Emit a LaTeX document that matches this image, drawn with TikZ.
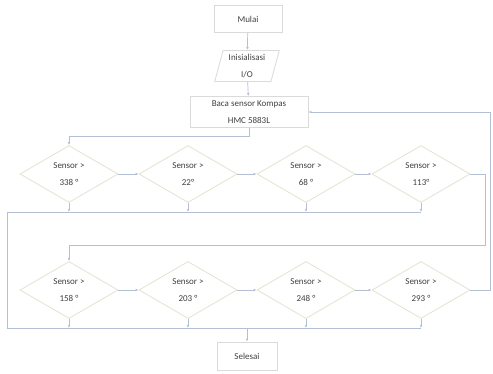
\documentclass[tikz,border=0pt]{standalone}
\usepackage{fontspec}
\setmainfont{Carlito}
\usetikzlibrary{shapes.geometric,arrows.meta}
\definecolor{linec}{HTML}{B4BED4}
\definecolor{boxc}{HTML}{DADADA}
\definecolor{diac}{HTML}{E2E4D2}
\definecolor{txtc}{HTML}{404040}
\begin{document}
\begin{tikzpicture}[x=1pt,y=-1pt,
  every node/.style={font=\fontsize{9}{17}\selectfont,text=txtc,align=center,inner sep=0pt},
  boxn/.style={draw=boxc,line width=0.8pt,rectangle,fill=white},
  ion/.style={draw=boxc,line width=0.8pt,trapezium,trapezium left angle=75,trapezium right angle=105,minimum width=62pt,minimum height=31pt,fill=white},
  dec/.style={draw=diac,line width=0.8pt,diamond,minimum width=98pt,minimum height=57pt,aspect=1.7,fill=white},
  conn/.style={draw=linec,line width=0.7pt},
  arr/.style={conn,-{Latex[length=3pt,width=2.5pt]}}]
\useasboundingbox[fill=white] (0,0) rectangle (493,373);
\node[boxn,minimum width=68pt,minimum height=27pt] (mulai) at (248,19) {Mulai};
\node[ion] (init) at (247,66) {Inisialisasi\\I/O};
\node[boxn,minimum width=118pt,minimum height=31pt] (baca) at (249,112) {Baca sensor Kompas\\HMC 5883L};
\node[dec] (a1) at (69,174) {Sensor >\\338 °};
\node[dec] (a2) at (188,174) {Sensor >\\22°};
\node[dec] (a3) at (306,174) {Sensor >\\68 °};
\node[dec] (a4) at (421,174) {Sensor >\\113°};
\node[dec] (b1) at (69,290) {Sensor >\\158 °};
\node[dec] (b2) at (188,290) {Sensor >\\203 °};
\node[dec] (b3) at (306,290) {Sensor >\\248 °};
\node[dec] (b4) at (421,290) {Sensor >\\293 °};
\node[boxn,minimum width=60pt,minimum height=28pt] (selesai) at (247,356) {Selesai};
\coordinate (bus1L) at (7,212);
\coordinate (bus1R) at (421,212);
\coordinate (bus2L) at (7,328);
\coordinate (bus2R) at (421,328);
\coordinate (r1) at (485,174);
\coordinate (r1d) at (485,245);
\coordinate (r2) at (490,290);
\coordinate (r2u) at (490,112);
\coordinate (bc) at (249,136);
% main flow
\draw[arr] (mulai) -- (init);
\draw[arr] (init) -- (baca);
\draw[arr] (baca.south) -- (bc) -| (a1.north);
\draw[arr] (a1) -- (a2);
\draw[arr] (a2) -- (a3);
\draw[arr] (a3) -- (a4);
\draw[arr] (a4.east) -- (r1) -- (r1d) -| (b1.north);
\draw[arr] (b1) -- (b2);
\draw[arr] (b2) -- (b3);
\draw[arr] (b3) -- (b4);
\draw[arr] (b4.east) -- (r2) -- (r2u) -- (baca.east);
% yes branches
\foreach \d in {a1,a2,a3,a4} \draw[arr] (\d.south) -- (\d.south |- bus1L);
\foreach \d in {b1,b2,b3,b4} \draw[arr] (\d.south) -- (\d.south |- bus2L);
\draw[conn] (bus1R) -- (bus1L) -- (bus2L) -- (bus2R);
\draw[arr] (selesai.north |- bus2L) -- (selesai.north);
\end{tikzpicture}
\end{document}
